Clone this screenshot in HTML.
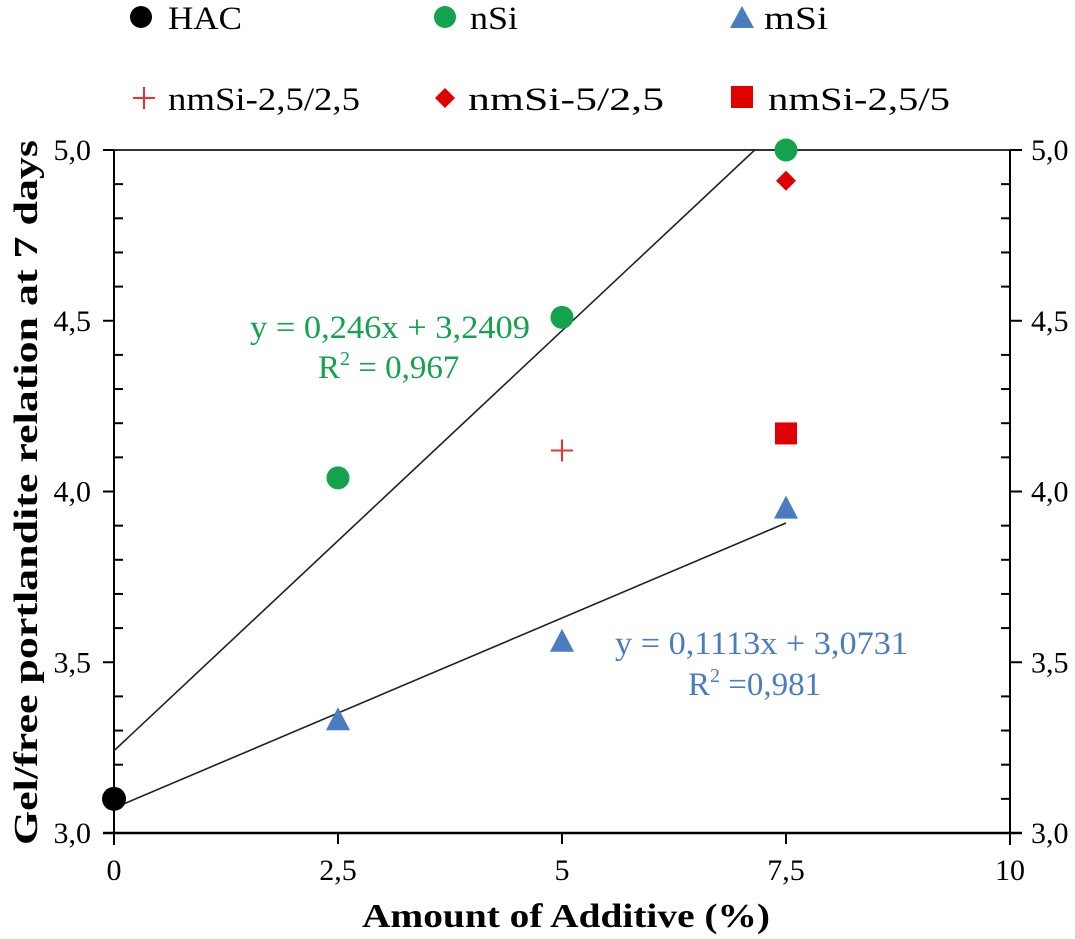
<!DOCTYPE html>
<html><head><meta charset="utf-8"><style>
html,body{margin:0;padding:0;background:#fff;}
svg{display:block;}
svg text{font-family:"Liberation Serif","Times New Roman",serif;}
</style></head><body>
<svg id="chart" width="1075" height="939" viewBox="0 0 1075 939" xmlns="http://www.w3.org/2000/svg" font-family="Liberation Serif, serif">
<g id="legend">
 <g><circle cx="141" cy="17" r="11" fill="#000"/><text x="168" y="29" font-size="33" textLength="74" lengthAdjust="spacingAndGlyphs">HAC</text></g>
 <g><circle cx="445" cy="17" r="11" fill="#12a34c"/><text x="470" y="29" font-size="33" textLength="48" lengthAdjust="spacingAndGlyphs">nSi</text></g>
 <g><polygon points="742,6 754,28 730,28" fill="#4a7cc0"/><text x="764" y="29" font-size="33" textLength="64" lengthAdjust="spacingAndGlyphs">mSi</text></g>
 <g><path d="M133,98h22M144,87v22" stroke="#f03030" stroke-width="2"/><text x="168" y="110" font-size="33" textLength="192" lengthAdjust="spacingAndGlyphs">nmSi-2,5/2,5</text></g>
 <g><polygon points="445,88 455,98 445,108 435,98" fill="#e00000"/><text x="468" y="110" font-size="33" textLength="196" lengthAdjust="spacingAndGlyphs">nmSi-5/2,5</text></g>
 <g><rect x="731" y="86" width="22" height="22" fill="#e00000"/><text x="768" y="110" font-size="33" textLength="182" lengthAdjust="spacingAndGlyphs">nmSi-2,5/5</text></g>
</g>
<g id="axes"></g>
<g id="marks"></g>
<text x="250" y="338" font-size="33" fill="#12a34c" textLength="280" lengthAdjust="spacingAndGlyphs">y = 0,246x + 3,2409</text>
<text x="318" y="378" font-size="33" fill="#12a34c">R<tspan font-size="20" dy="-13">2</tspan><tspan dy="13"> = 0,967</tspan></text>
<text x="615" y="654" font-size="33" fill="#4a7cc0" textLength="293" lengthAdjust="spacingAndGlyphs">y = 0,1113x + 3,0731</text>
<text x="688" y="695" font-size="33" fill="#4a7cc0">R<tspan font-size="20" dy="-13">2</tspan><tspan dy="13"> =0,981</tspan></text>
<text x="362" y="927" font-size="34" font-weight="bold" textLength="408" lengthAdjust="spacingAndGlyphs">Amount of Additive (%)</text>
<text transform="translate(37,845) rotate(-90)" font-size="34" font-weight="bold" textLength="705" lengthAdjust="spacingAndGlyphs">Gel/free portlandite relation at 7 days</text>
</svg>
<script>
const xTicks=[0,2.5,5,7.5,10];
const xTickLabels=["0","2,5","5","7,5","10"];
const yTicks=[3.0,3.5,4.0,4.5,5.0];
const yTickLabels=["3,0","3,5","4,0","4,5","5,0"];
const hacX=[0], hacY=[3.10];
const nsiX=[2.5,5,7.5], nsiY=[4.04,4.51,5.0];
const msiX=[2.5,5,7.5], msiY=[3.33,3.56,3.95];
const nm2525X=[5], nm2525Y=[4.12];
const nm525X=[7.5], nm525Y=[4.91];
const nm255X=[7.5], nm255Y=[4.17];
const nsiFit=[0.246,3.2409];
const msiFit=[0.1113,3.0731];
const NS='http://www.w3.org/2000/svg';
const X=v=>114+v*(1010-114)/10;
const Y=v=>833-(v-3)*(833-150)/2;
function mk(tag,attrs,parent){const e=document.createElementNS(NS,tag);for(const k in attrs)e.setAttribute(k,attrs[k]);parent.appendChild(e);return e;}
const ax=document.getElementById('axes'), mk2=document.getElementById('marks');
let e;
e=mk('line',{x1:103,y1:833,x2:1022,y2:833,stroke:'#000','stroke-width':2.5},ax);

e=mk('line',{x1:103,y1:150,x2:1022,y2:150,stroke:'#333','stroke-width':2},ax);

e=mk('line',{x1:114,y1:150,x2:114,y2:845,stroke:'#000','stroke-width':2},ax);

e=mk('line',{x1:1010,y1:150,x2:1010,y2:845,stroke:'#000','stroke-width':2},ax);

for(let i=1;i<20;i++){const v=3+i*0.1;if(i%5===0)continue;
 mk('line',{x1:114,y1:Y(v),x2:123,y2:Y(v),stroke:'#000','stroke-width':2},ax);
 mk('line',{x1:1001,y1:Y(v),x2:1010,y2:Y(v),stroke:'#000','stroke-width':2},ax);}
yTicks.forEach((v,i)=>{
 mk('line',{x1:103,y1:Y(v),x2:114,y2:Y(v),stroke:'#000','stroke-width':2},ax);
 mk('line',{x1:1010,y1:Y(v),x2:1022,y2:Y(v),stroke:'#000','stroke-width':2},ax);
 e=mk('text',{x:91,y:Y(v)+10,'font-size':30,'text-anchor':'end'},ax);e.textContent=yTickLabels[i];
 
 e=mk('text',{x:1031,y:Y(v)+10,'font-size':30},ax);e.textContent=yTickLabels[i];
 
});
xTicks.forEach((v,i)=>{
 mk('line',{x1:X(v),y1:833,x2:X(v),y2:844,stroke:'#000','stroke-width':2},ax);
 e=mk('text',{x:X(v),y:880,'font-size':30,'text-anchor':'middle'},ax);e.textContent=xTickLabels[i];
 
});
const nEnd=(5-nsiFit[1])/nsiFit[0];
e=mk('line',{x1:X(0),y1:Y(nsiFit[1]),x2:X(nEnd),y2:Y(nsiFit[0]*nEnd+nsiFit[1]),stroke:'#222','stroke-width':1.6},mk2);

e=mk('line',{x1:X(0),y1:Y(msiFit[1]),x2:X(7.5),y2:Y(msiFit[0]*7.5+msiFit[1]),stroke:'#222','stroke-width':1.6},mk2);

hacX.forEach((x,i)=>{e=mk('circle',{cx:X(x),cy:Y(hacY[i]),r:12,fill:'#000'},mk2);
 });
nsiX.forEach((x,i)=>{e=mk('circle',{cx:X(x),cy:Y(nsiY[i]),r:11.5,fill:'#12a34c'},mk2);
 });
msiX.forEach((x,i)=>{const cx=X(x),cy=Y(msiY[i]);e=mk('polygon',{points:`${cx},${cy-13} ${cx+12},${cy+10} ${cx-12},${cy+10}`,fill:'#4a7cc0'},mk2);
 });
nm2525X.forEach((x,i)=>{const cx=X(x),cy=Y(nm2525Y[i]);e=mk('path',{d:`M${cx-11},${cy}h22M${cx},${cy-11}v22`,stroke:'#f03030','stroke-width':2},mk2);
 });
nm525X.forEach((x,i)=>{const cx=X(x),cy=Y(nm525Y[i]);e=mk('polygon',{points:`${cx},${cy-10} ${cx+10},${cy} ${cx},${cy+10} ${cx-10},${cy}`,fill:'#e00000'},mk2);
 });
nm255X.forEach((x,i)=>{const cx=X(x),cy=Y(nm255Y[i]);e=mk('rect',{x:cx-11,y:cy-11,width:22,height:22,fill:'#e00000'},mk2);
 });
</script>
</body></html>
